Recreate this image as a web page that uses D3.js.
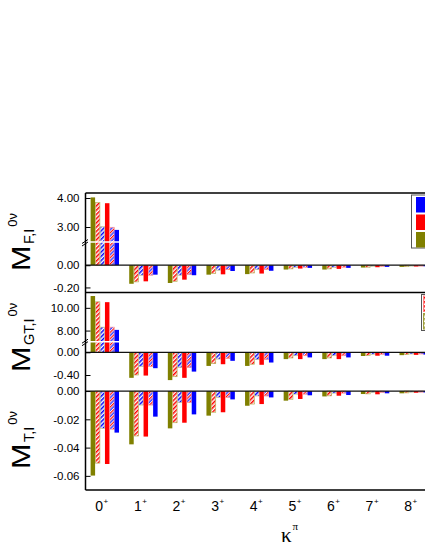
<!DOCTYPE html>
<html lang="en">
<head>
<meta charset="utf-8">
<title>M 0v multipole decomposition</title>
<script src="https://d3js.org/d3.v7.min.js"></script>
<style>
  body { margin: 0; background: #fff; }
  svg { display: block; }
  text { font-family: "Liberation Sans", Arial, sans-serif; fill: #000; }
</style>
</head>
<body>
<svg id="chart" width="425" height="550"></svg>
<script>
// multipoles on the x axis
const categories = ["0", "1", "2", "3", "4", "5", "6", "7", "8"];
// bar order inside each group
const series = ["olive", "redHatch", "blueHatch", "red", "mixHatch", "blue"];

// rows follow `series`, columns follow `categories`
const mF = [
  [4.02, -0.167, -0.160, -0.085, -0.080, -0.039, -0.039, -0.021, -0.015],
  [3.84, -0.150, -0.145, -0.074, -0.070, -0.033, -0.033, -0.018, -0.013],
  [3.01, -0.090, -0.090, -0.045, -0.040, -0.020, -0.020, -0.010, -0.008],
  [3.82, -0.145, -0.130, -0.082, -0.075, -0.030, -0.033, -0.018, -0.012],
  [2.99, -0.090, -0.085, -0.040, -0.040, -0.018, -0.018, -0.010, -0.008],
  [2.90, -0.085, -0.090, -0.052, -0.050, -0.024, -0.024, -0.015, -0.010]
];
const mGT = [
  [11.04, -0.45, -0.49, -0.24, -0.24, -0.12, -0.12, -0.065, -0.050],
  [10.53, -0.40, -0.43, -0.20, -0.21, -0.10, -0.10, -0.055, -0.040],
  [8.30, -0.25, -0.27, -0.12, -0.13, -0.06, -0.06, -0.035, -0.030],
  [10.50, -0.41, -0.45, -0.21, -0.22, -0.12, -0.12, -0.060, -0.045],
  [8.30, -0.25, -0.27, -0.11, -0.13, -0.06, -0.06, -0.035, -0.030],
  [8.06, -0.28, -0.34, -0.15, -0.18, -0.09, -0.09, -0.060, -0.040]
];
const mT = [
  [-0.0598, -0.0377, -0.0264, -0.0174, -0.0104, -0.0068, -0.0038, -0.0021, -0.0016],
  [-0.0510, -0.0318, -0.0224, -0.0150, -0.0092, -0.0058, -0.0034, -0.0020, -0.0013],
  [-0.0264, -0.0099, -0.0082, -0.0045, -0.0035, -0.0022, -0.0015, -0.0010, -0.0008],
  [-0.0516, -0.0322, -0.0224, -0.0150, -0.0092, -0.0056, -0.0033, -0.0023, -0.0012],
  [-0.0270, -0.0099, -0.0082, -0.0045, -0.0035, -0.0022, -0.0015, -0.0010, -0.0008],
  [-0.0294, -0.0181, -0.0165, -0.0059, -0.0045, -0.0030, -0.0028, -0.0016, -0.0010]
];

// tick values per axis segment
const fTicksHi = [3, 4], fTicksLo = [-0.2, 0];
const gtTicksHi = [8, 10], gtTicksLo = [-0.4, 0];
const tTicks = [-0.06, -0.04, -0.02, 0];

const left = 85.5, right = 433;
const svg = d3.select("#chart");

// ---- patterns for the hatched bars
const defs = svg.append("defs");
function stripes(id, colors, step) {
  const w = step * colors.length * 2;
  const p = defs.append("pattern")
      .attr("id", id)
      .attr("patternUnits", "userSpaceOnUse")
      .attr("width", w).attr("height", w)
      .attr("patternTransform", "rotate(45)");
  p.append("rect").attr("width", w).attr("height", w).attr("fill", "#fff");
  colors.forEach((c, i) => {
    p.append("rect").attr("x", i * step * 2).attr("width", step).attr("height", w).attr("fill", c);
  });
}
stripes("hRed", ["#ff0000"], 1.5);
stripes("hBlue", ["#0000ff"], 1.5);
stripes("hMix", ["#ff0000", "#0000ff"], 1.1);
stripes("hOlive", ["#a0a040"], 1.5);

const fills = {
  olive: "#808000", redHatch: "url(#hRed)", blueHatch: "url(#hBlue)",
  red: "#ff0000", mixHatch: "url(#hMix)", blue: "#0000ff"
};
const strokes = {
  olive: "none", redHatch: "#b8b860", blueHatch: "#c8c890",
  red: "none", mixHatch: "#ff9090", blue: "none"
};

const x = d3.scaleBand().domain(categories).range([left, right]);
const xInner = d3.scaleBand().domain(series).range([-14.2, 14.2]).paddingInner(0.06);

// ---- panels (lower scale always, upper scale when the axis is broken)
const panels = [
  {
    data: mF, top: 193, bottom: 292.5, brk: 242,
    lo: d3.scaleLinear().domain([-0.2455, 0.209]).range([292.5, 242]),
    hi: d3.scaleLinear().domain([2.483, 4.172]).range([242, 193]),
    ticksLo: fTicksLo, ticksHi: fTicksHi, minorLo: 0.05, minorHi: 0.2,
    sub: "F,I", labelY: 271
  },
  {
    data: mGT, top: 292.5, bottom: 383, brk: 341.7,
    lo: d3.scaleLinear().domain([-0.541, 0.187]).range([383, 341.7]),
    hi: d3.scaleLinear().domain([7.02, 11.35]).range([341.7, 292.5]),
    ticksLo: gtTicksLo, ticksHi: gtTicksHi, minorLo: 0.1, minorHi: 0.5,
    sub: "GT,I", labelY: 372
  },
  {
    data: mT, top: 383, bottom: 490, brk: null,
    lo: d3.scaleLinear().domain([-0.0700, 0.0057]).range([490, 383]),
    hi: null,
    ticksLo: tTicks, ticksHi: [], minorLo: 0.005, minorHi: 0,
    sub: "T,I", labelY: 469
  }
];

function minorTicks(scale, step) {
  const [a, b] = scale.domain();
  const out = [];
  for (let v = Math.ceil(a / step) * step; v <= b + 1e-9; v += step) out.push(+v.toFixed(6));
  return out;
}

panels.forEach(p => {
  const g = svg.append("g");

  // bars
  const rows = [];
  p.data.forEach((vals, si) => vals.forEach((v, ci) => rows.push({ s: series[si], c: categories[ci], v })));
  g.selectAll("rect.bar")
    .data(rows)
    .join("rect")
      .attr("class", "bar")
      .attr("x", d => x(d.c) + x.bandwidth() / 2 + xInner(d.s))
      .attr("width", xInner.bandwidth())
      .attr("y", d => {
        if (p.hi && d.v > p.hi.domain()[0]) return p.hi(d.v);
        return p.lo(Math.max(d.v, 0));
      })
      .attr("height", d => {
        const t = (p.hi && d.v > p.hi.domain()[0]) ? p.hi(d.v) : p.lo(Math.max(d.v, 0));
        return p.lo(Math.min(d.v, 0)) - t;
      })
      .attr("fill", d => fills[d.s])
      .attr("stroke", d => strokes[d.s])
      .attr("stroke-width", 0.7);

  // zero line
  g.append("line")
    .attr("x1", left).attr("x2", 425)
    .attr("y1", p.lo(0)).attr("y2", p.lo(0))
    .attr("stroke", "#111").attr("stroke-width", 1.2);

  // axis segments, ticks pointing inward
  const fmt = d => d.toFixed(2);
  const drawAxis = (scale, ticks, minor) => {
    const ax = g.append("g").attr("transform", `translate(${left},0)`);
    ax.call(d3.axisLeft(scale).tickValues(minorTicks(scale, minor)).tickSize(-2.5).tickFormat(""));
    ax.call(d3.axisLeft(scale).tickValues(ticks).tickSize(-5).tickPadding(6).tickFormat(fmt));
    ax.selectAll(".domain").remove();
    ax.selectAll("line").attr("stroke", "#000");
    ax.selectAll("text").attr("font-size", 11.5).attr("font-family", '"Liberation Sans", Arial, sans-serif');
  };
  drawAxis(p.lo, p.ticksLo, p.minorLo);
  if (p.hi) drawAxis(p.hi, p.ticksHi, p.minorHi);

  // axis break: white gap through the bars and a mark on the axis
  if (p.brk) {
    g.append("line")
      .attr("x1", left - 5).attr("x2", 425)
      .attr("y1", p.brk).attr("y2", p.brk)
      .attr("stroke", "#fff").attr("stroke-width", 1.6);
    g.append("path")
      .attr("d", `M${left - 3.5},${p.brk + 1.5} L${left + 2.5},${p.brk - 2.5} M${left - 3.5},${p.brk + 4} L${left + 2.5},${p.brk}`)
      .attr("stroke", "#000").attr("stroke-width", 1).attr("fill", "none");
  }

  // y label: M with subscript and superscript, rotated
  const lab = svg.append("g").attr("transform", `translate(30,${p.labelY}) rotate(-90)`);
  lab.append("text").text("M")
    .attr("font-size", 25).attr("transform", "scale(1.22,1)");
  const sub = lab.append("text").text(p.sub)
    .attr("x", 27).attr("y", 4).attr("font-size", 14.5);
  const subW = sub.node().getComputedTextLength();
  lab.append("text").text("0\u03bd")
    .attr("x", 29 + subW).attr("y", -13).attr("font-size", 13);
});

// frame lines
svg.append("line").attr("x1", left).attr("x2", 425).attr("y1", 193).attr("y2", 193)
  .attr("stroke", "#000").attr("stroke-width", 1.5);
svg.append("line").attr("x1", left).attr("x2", 425).attr("y1", 292.5).attr("y2", 292.5)
  .attr("stroke", "#000").attr("stroke-width", 1.3);
svg.append("line").attr("x1", left).attr("x2", 425).attr("y1", 490).attr("y2", 490)
  .attr("stroke", "#000").attr("stroke-width", 1.5);
svg.append("line").attr("x1", left).attr("x2", left).attr("y1", 193).attr("y2", 490)
  .attr("stroke", "#000").attr("stroke-width", 1.5);

// x tick labels with "+" parity
const xl = svg.append("g").selectAll("text")
  .data(categories)
  .join("text")
    .attr("x", d => x(d) + x.bandwidth() / 2 - 3)
    .attr("y", 511)
    .attr("text-anchor", "middle")
    .attr("font-size", 14);
xl.append("tspan").text(d => d);
xl.append("tspan").text("+").attr("font-size", 8).attr("dy", -7).attr("dx", 0.5);

// x title
const xt = svg.append("text").attr("x", 281).attr("y", 542)
  .attr("font-family", '"Liberation Serif", serif').attr("font-size", 21);
xt.append("tspan").text("\u03ba").attr("font-family", '"Liberation Serif", serif');
xt.append("tspan").text("\u03c0").attr("font-size", 11).attr("dy", -12).attr("dx", 1)
  .attr("font-family", '"Liberation Serif", serif');

// legends (cut by the right edge)
const leg1 = svg.append("g");
leg1.append("rect").attr("x", 411.5).attr("y", 195).attr("width", 30).attr("height", 53)
  .attr("fill", "#fff").attr("stroke", "#555").attr("stroke-width", 1);
[["#0000ff", 197], ["#ff0000", 214.5], ["#808000", 232]].forEach(([c, y]) => {
  leg1.append("rect").attr("x", 416).attr("y", y).attr("width", 20).attr("height", 15.5).attr("fill", c);
});
const leg2 = svg.append("g");
leg2.append("rect").attr("x", 421.5).attr("y", 294.5).attr("width", 20).attr("height", 36)
  .attr("fill", "#fff").attr("stroke", "#555").attr("stroke-width", 1);
[["url(#hRed)", "#ff8080", 296], ["url(#hOlive)", "#a0a040", 313.5]].forEach(([f, s, y]) => {
  leg2.append("rect").attr("x", 423.5).attr("y", y).attr("width", 10).attr("height", 15.5)
    .attr("fill", f).attr("stroke", s).attr("stroke-width", 1);
});
</script>
</body>
</html>
